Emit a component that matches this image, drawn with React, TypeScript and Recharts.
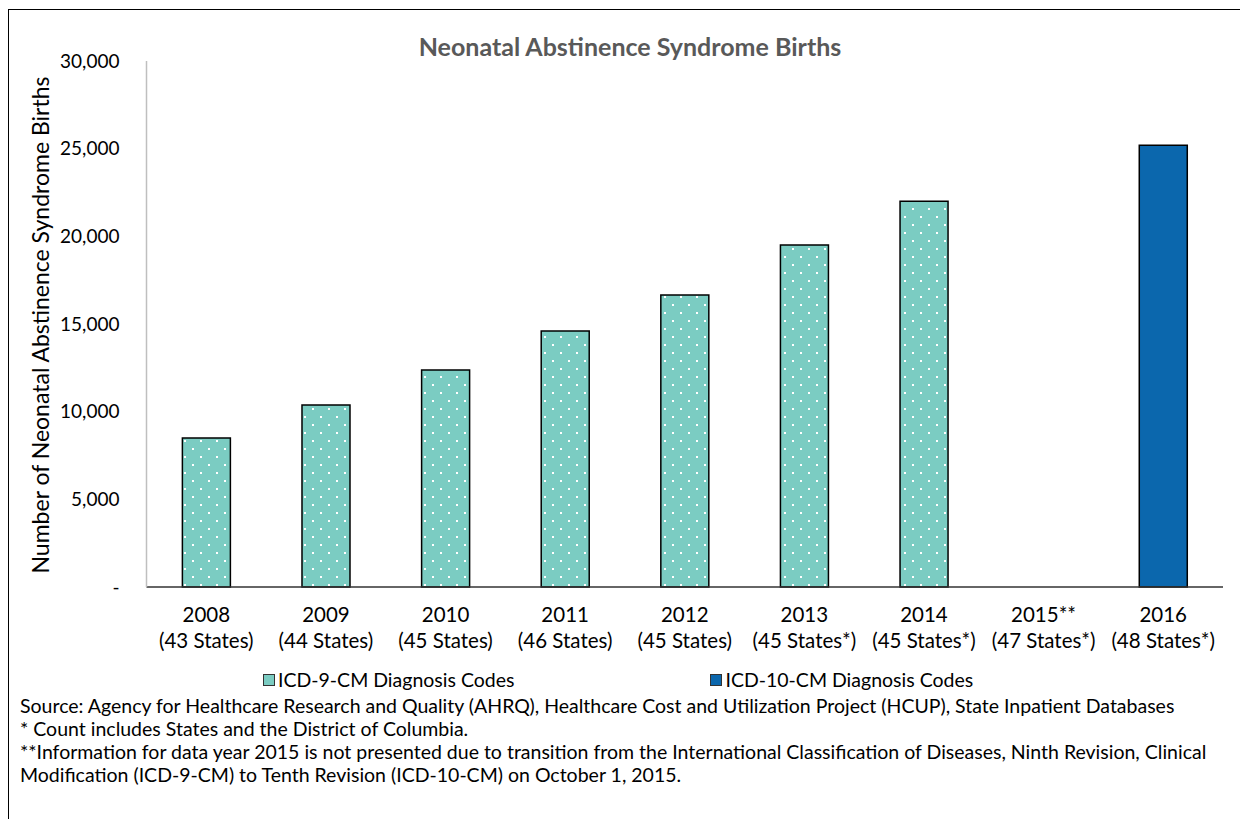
import React from 'react';
import { BarChart, Bar, XAxis, YAxis } from 'recharts';

const years = ['2008', '2009', '2010', '2011', '2012', '2013', '2014', '2015**', '2016'];
const stateCounts = ['(43 States)', '(44 States)', '(45 States)', '(46 States)', '(45 States)', '(45 States*)', '(45 States*)', '(47 States*)', '(48 States*)'];
const icd9Births = [8500, 10380, 12380, 14600, 16650, 19500, 22000, null, null];
const icd10Births = [null, null, null, null, null, null, null, null, 25190];
const yTicks = [0, 5000, 10000, 15000, 20000, 25000, 30000];
const seriesNames = ['ICD-9-CM Diagnosis Codes', 'ICD-10-CM Diagnosis Codes'];
const footnotes = [
  'Source: Agency for Healthcare Research and Quality (AHRQ), Healthcare Cost and Utilization Project (HCUP), State Inpatient Databases',
  '* Count includes States and the District of Columbia.',
  '**Information for data year 2015 is not presented due to transition from the International Classification of Diseases, Ninth Revision, Clinical',
  'Modification (ICD-9-CM) to Tenth Revision (ICD-10-CM) on October 1, 2015.',
];

const data = years.map((year, i) => ({
  year,
  states: stateCounts[i],
  icd9: icd9Births[i],
  icd10: icd10Births[i],
}));

const FONT = 'Lato, sans-serif';
const TEAL = '#7BCCC2';
const BLUE = '#0B67AD';

const YearTick = ({ x, y, payload, index }: any) => (
  <g transform={`translate(${x},${y})`}>
    <text textAnchor="middle" fontFamily={FONT} fontSize={20.5} fill="#000">
      <tspan x={0} dy={27}>{payload.value}</tspan>
      <tspan x={0} dy={26}>{stateCounts[index]}</tspan>
    </text>
  </g>
);

const YLabel = ({ viewBox }: any) => {
  const cx = 32;
  const cy = viewBox.y + viewBox.height / 2 + 1;
  return (
    <text x={cx} y={cy} transform={`rotate(-90, ${cx}, ${cy})`} textAnchor="middle" dominantBaseline="central"
      fontFamily={FONT} fontSize={23} fill="#000">
      Number of Neonatal Abstinence Syndrome Births
    </text>
  );
};

const App = () => {
  return (
    <div style={{ position: 'relative', width: 1240, height: 811, fontFamily: FONT }}>
      <div style={{ position: 'absolute', left: 0, top: 1, right: -20, bottom: -20, borderLeft: '1px solid #000', borderTop: '1px solid #000' }} />
      <div style={{ position: 'absolute', left: 0, width: 1244, top: 23, textAlign: 'center', fontSize: 25, lineHeight: '30px', fontWeight: 700, color: '#595959' }}>
        Neonatal Abstinence Syndrome Births
      </div>
      <div style={{ position: 'absolute', left: 0, top: 0 }}>
        <BarChart width={1240} height={811} data={data} margin={{ top: 53, right: 25, left: 0, bottom: 172 }} barCategoryGap="30%">
          <defs>
            <pattern id="tealDots" width="16" height="16" patternUnits="userSpaceOnUse">
              <rect width="16" height="16" fill={TEAL} />
              <rect x="0" y="0" width="2" height="2" fill="#fff" />
              <rect x="8" y="8" width="2" height="2" fill="#fff" />
            </pattern>
          </defs>
          <XAxis dataKey="year" tick={<YearTick />} tickLine={false} axisLine={{ stroke: '#333', strokeWidth: 1.5 }} height={60} interval={0} />
          <YAxis
            width={138.5}
            domain={[0, 30000]}
            ticks={yTicks}
            tickLine={false}
            tickSize={0}
            tickMargin={27}
            axisLine={{ stroke: '#BFBFBF', strokeWidth: 1.5 }}
            tick={{ fontFamily: FONT, fontSize: 19, fill: '#000' }}
            tickFormatter={(v: number) => (v === 0 ? '-' : v.toLocaleString('en-US'))}
            label={<YLabel />}
          />
          <Bar dataKey="icd9" name={seriesNames[0]} stackId="a" fill="url(#tealDots)" stroke="#000" strokeWidth={1.5} isAnimationActive={false} />
          <Bar dataKey="icd10" name={seriesNames[1]} stackId="a" fill={BLUE} stroke="#000" strokeWidth={1.5} isAnimationActive={false} />
        </BarChart>
      </div>
      <div style={{ position: 'absolute', left: 255, top: 660, display: 'flex', alignItems: 'center', fontSize: 19.5, color: '#000', whiteSpace: 'nowrap' }}>
        <span style={{ display: 'inline-block', width: 10, height: 10, background: TEAL, border: '1px solid #333', marginRight: 3 }} />
        <span style={{ marginRight: 196 }}>{seriesNames[0]}</span>
        <span style={{ display: 'inline-block', width: 10, height: 10, background: BLUE, border: '1px solid #333', marginRight: 3 }} />
        <span>{seriesNames[1]}</span>
      </div>
      <div style={{ position: 'absolute', left: 12, top: 686, fontSize: 19.5, lineHeight: '23px', color: '#000', whiteSpace: 'nowrap' }}>
        {footnotes.map((t) => (
          <div key={t}>{t}</div>
        ))}
      </div>
    </div>
  );
};

export default App;
